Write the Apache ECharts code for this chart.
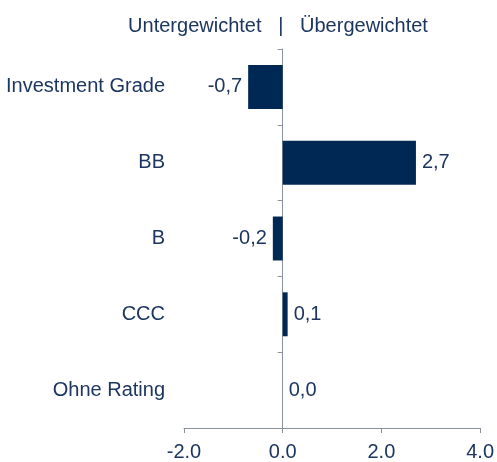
<!DOCTYPE HTML>
<html>
<head>
    <meta charset="utf-8">
    <title>Ratings Gewichtung</title>
    <script src="https://cdn.jsdelivr.net/npm/echarts@6.0.0/dist/echarts.min.js"></script>
    <style>
        body { margin: 0; background: #fff; }
    </style>
</head>
<body>
<div id="main" style="width: 497px;height: 462px;"></div>

<script type="text/javascript">

    var categories = ['Investment Grade', 'BB', 'B', 'CCC', 'Ohne Rating'];
    var values = [-0.7, 2.7, -0.2, 0.1, 0.0];
    var xTicks = [-2, 0, 2, 4];

    var navy = '#002855';
    var textColor = '#1c3660';
    var axisGrey = '#8a939d';
    var fontFamily = 'Arial, "Liberation Sans", sans-serif';

    // category axis goes top to bottom, so reverse for echarts
    var yCats = categories.slice().reverse();
    var yVals = values.slice().reverse();

    var barData = [];
    for (var i = 0; i < yVals.length; i++) {
        barData.push({
            value: yVals[i],
            label: { position: yVals[i] < 0 ? 'left' : 'right' }
        });
    }

    var myChart = echarts.init(document.getElementById('main'));

    var option = {
        animation: false,
        title: {
            text: 'Untergewichtet   |   Übergewichtet',
            left: 273,
            top: 11,
            textAlign: 'center',
            textStyle: { color: textColor, fontSize: 20, fontWeight: 'normal', fontFamily: fontFamily }
        },
        grid: { left: 184, right: 14, top: 49, bottom: 32 },
        xAxis: {
            type: 'value',
            min: xTicks[0],
            max: xTicks[xTicks.length - 1],
            interval: 2,
            splitLine: { show: false },
            axisLine: { show: true, lineStyle: { color: axisGrey, width: 1 } },
            axisTick: { show: true, length: 5, lineStyle: { color: axisGrey } },
            axisLabel: {
                color: textColor, fontSize: 20, fontFamily: fontFamily, margin: 14,
                formatter: function (v) { return v.toFixed(1); }
            }
        },
        yAxis: [
            {
                type: 'category',
                data: yCats,
                axisLine: { onZero: true, lineStyle: { color: axisGrey, width: 1 } },
                axisTick: { show: true, length: 5, lineStyle: { color: axisGrey } },
                axisLabel: { show: false }
            },
            {
                type: 'category',
                data: yCats,
                position: 'left',
                axisLine: { show: false },
                axisTick: { show: false },
                axisLabel: { color: textColor, fontSize: 20, fontFamily: fontFamily, margin: 19 }
            }
        ],
        series: [
            {
                type: 'bar',
                yAxisIndex: 0,
                data: barData,
                barWidth: '58%',
                itemStyle: { color: navy },
                label: {
                    show: true,
                    distance: 6,
                    color: textColor,
                    fontSize: 20,
                    fontFamily: fontFamily,
                    formatter: function (p) { return p.value.toFixed(1).replace('.', ','); }
                }
            }
        ]
    };

    myChart.setOption(option);
</script>
</body>
</html>
